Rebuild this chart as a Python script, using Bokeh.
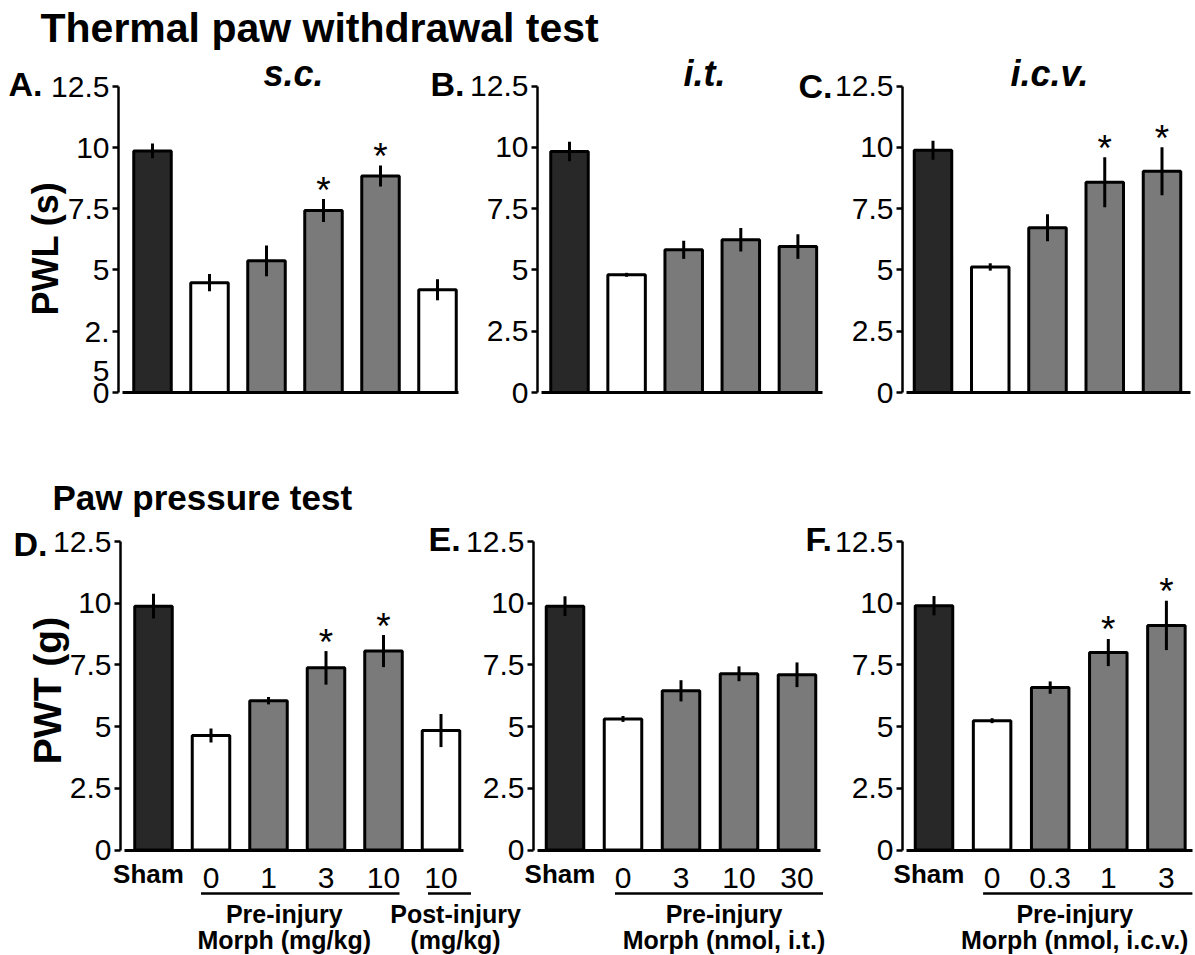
import math
from bokeh.plotting import figure
from bokeh.models import Range1d, LinearAxis, FixedTicker
from bokeh.layouts import column
from bokeh.embed import file_html
from bokeh.resources import INLINE
from bokeh.core.properties import value

# ------------------------------------------------------------------ data
# Thermal paw withdrawal latency, PWL (s)
sc_labels = ["Sham", "0", "1", "3", "10", "10"]
sc_kind = ["sham", "veh", "morph", "morph", "morph", "post"]
sc_pwl = [9.85, 4.48, 5.37, 7.42, 8.83, 4.19]
sc_pwl_err = [0.30, 0.35, 0.63, 0.47, 0.43, 0.43]
sc_pwl_sig = [0, 0, 0, 1, 1, 0]

it_labels = ["Sham", "0", "3", "10", "30"]
it_kind = ["sham", "veh", "morph", "morph", "morph"]
it_pwl = [9.83, 4.80, 5.82, 6.23, 5.95]
it_pwl_err = [0.40, 0.08, 0.37, 0.48, 0.50]
it_pwl_sig = [0, 0, 0, 0, 0]

icv_labels = ["Sham", "0", "0.3", "1", "3"]
icv_kind = ["sham", "veh", "morph", "morph", "morph"]
icv_pwl = [9.88, 5.12, 6.72, 8.57, 9.02]
icv_pwl_err = [0.39, 0.15, 0.55, 1.02, 0.98]
icv_pwl_sig = [0, 0, 0, 1, 1]

# Paw pressure threshold, PWT (g)
sc_pwt = [9.88, 4.64, 6.05, 7.38, 8.06, 4.84]
sc_pwt_err = [0.50, 0.28, 0.15, 0.68, 0.65, 0.67]
sc_pwt_sig = [0, 0, 0, 1, 1, 0]

it_pwt = [9.88, 5.31, 6.45, 7.14, 7.10]
it_pwt_err = [0.40, 0.12, 0.43, 0.30, 0.50]
it_pwt_sig = [0, 0, 0, 0, 0]

icv_pwt = [9.90, 5.24, 6.58, 8.00, 9.10]
icv_pwt_err = [0.39, 0.10, 0.25, 0.55, 1.00]
icv_pwt_sig = [0, 0, 0, 1, 1]

y_ticks = [0, 2.5, 5, 7.5, 10, 12.5]
y_tick_labels = ["0", "2.5", "5", "7.5", "10", "12.5"]

# group brackets under the x labels: (line 1, line 2, first index, last index)
sc_groups = [("Pre-injury", "Morph (mg/kg)", 1, 4), ("Post-injury", "(mg/kg)", 5, 5)]
it_groups = [("Pre-injury", "Morph (nmol, i.t.)", 1, 4)]
icv_groups = [("Pre-injury", "Morph (nmol, i.c.v.)", 1, 4)]

# ------------------------------------------------------------------ style
FONT_NAME = "Liberation Sans"
FONT = value(FONT_NAME)
COLORS = {"sham": "#282828", "veh": "#ffffff", "morph": "#7a7a7a", "post": "#ffffff"}
W = 1194
PX = 57.5          # pixels per x unit
BAR_W = 37.5 / PX


def xd(px):
    return px / PX


def txt(fig, x, y, s, size, style="normal", align="center", baseline="middle", angle=0.0):
    fig.text(x=[x], y=[y], text=[s], text_font=FONT, text_font_size=value(f"{size}px"),
             text_font_style=style, text_align=align, text_baseline=baseline,
             angle=angle, text_color="black")


def make_row(top_px, bottom_px, y0_px, y125_px, panels, header, ylabel):
    ppu = (y0_px - y125_px) / 12.5

    def yd(py):
        return (y0_px - py) / ppu

    fig = figure(width=W, height=bottom_px - top_px,
                 x_range=Range1d(0, W / PX),
                 y_range=Range1d(-(bottom_px - y0_px) / ppu, (y0_px - top_px) / ppu),
                 output_backend="svg", toolbar_location=None,
                 x_axis_location=None, y_axis_location=None,
                 min_border=0, outline_line_color=None,
                 background_fill_color="white", border_fill_color="white")
    fig.grid.visible = False

    # section header and y-axis title
    htext, hx, hy, hsize = header
    txt(fig, xd(hx), yd(hy), htext, hsize, style="bold", align="left")
    ltext, lx, ly, lsize = ylabel
    txt(fig, xd(lx), yd(ly), ltext, lsize, style="bold", angle=math.pi / 2)

    for pnl in panels:
        labels, kinds, vals, errs, sig = pnl["data"]
        n = len(vals)
        xs = [round(xd(pnl["first"]) + i * pnl["pitch"] / PX, 5) for i in range(n)]
        ax_x = xd(pnl["axis"])

        # y axis
        overrides = dict(zip(y_ticks, y_tick_labels))
        overrides.update(pnl.get("yover", {}))
        ya = LinearAxis(fixed_location=ax_x, bounds=(0, 12.5),
                        ticker=FixedTicker(ticks=y_ticks),
                        major_label_overrides=overrides,
                        axis_line_width=2.5, axis_line_color="black",
                        major_tick_line_width=2.5, major_tick_line_color="black",
                        major_tick_out=6, major_tick_in=0,
                        minor_tick_line_color=None,
                        major_label_standoff=3,
                        major_label_text_font=FONT_NAME,
                        major_label_text_font_size="30px",
                        major_label_text_color="black")
        fig.add_layout(ya, "left")

        # x axis (baseline) with dose tick labels
        if pnl["xlabels"]:
            ticks = xs[1:]
            xover = {t: l for t, l in zip(xs[1:], labels[1:])}
        else:
            ticks = []
            xover = {}
        xa = LinearAxis(fixed_location=0, bounds=(xd(pnl["axis"] + 4), xd(pnl["end"])),
                        ticker=FixedTicker(ticks=ticks),
                        major_label_overrides=xover,
                        axis_line_width=3, axis_line_color="black",
                        major_tick_line_color=None, minor_tick_line_color=None,
                        major_label_standoff=12,
                        major_label_text_font=FONT_NAME,
                        major_label_text_font_size="30px",
                        major_label_text_color="black")
        fig.add_layout(xa, "below")

        # bars + error bars
        fig.vbar(x=xs, top=vals, bottom=0, width=BAR_W,
                 fill_color=[COLORS[k] for k in kinds],
                 line_color="black", line_width=3)
        fig.segment(x0=xs, y0=[v - e for v, e in zip(vals, errs)],
                    x1=xs, y1=[v + e for v, e in zip(vals, errs)],
                    line_color="black", line_width=3)

        # significance asterisks
        sx = [x for x, s in zip(xs, sig) if s]
        sy = [v + e for v, e, s in zip(vals, errs, sig) if s]
        if sx:
            fig.text(x=sx, y=sy, text=["*"] * len(sx), text_font=FONT,
                     text_font_size=value("37px"), text_align="center",
                     text_baseline="middle", y_offset=-9, text_color="black")

        # panel letter and route title
        lt, lxp, lyp = pnl["letter"]
        txt(fig, xd(lxp), yd(lyp), lt, 34, style="bold", align="left")
        if pnl.get("route"):
            rt, rxp, ryp = pnl["route"]
            txt(fig, xd(rxp), yd(ryp), rt, 36, style="bold italic")

        # group names under the axis
        if pnl["xlabels"]:
            txt(fig, xs[0] - 5 / PX, yd(873), labels[0], 26, style="bold")
            for (l1, l2, i0, i1), (p0, p1, shift) in zip(pnl["groups"], pnl["glay"]):
                u0 = xs[i0] + p0 / PX
                u1 = xs[i1] + p1 / PX
                fig.segment(x0=[u0], y0=[yd(893)], x1=[u1], y1=[yd(893)],
                            line_color="black", line_width=2.5)
                cx = (u0 + u1) / 2 + shift / PX
                txt(fig, cx, yd(913), l1, 25, style="bold")
                txt(fig, cx, yd(939), l2, 25, style="bold")
    return fig


row1_panels = [
    dict(data=(sc_labels, sc_kind, sc_pwl, sc_pwl_err, sc_pwl_sig), axis=118, first=152,
         pitch=57.0, end=458, letter=("A.", 8, 83.5), route=("s.c.", 293, 73),
         xlabels=False, yover={2.5: "\n2.\n5"}),
    dict(data=(it_labels, it_kind, it_pwl, it_pwl_err, it_pwl_sig), axis=537, first=569,
         pitch=57.1, end=822, letter=("B.", 430, 83.5), route=("i.t.", 704, 73),
         xlabels=False),
    dict(data=(icv_labels, icv_kind, icv_pwl, icv_pwl_err, icv_pwl_sig), axis=902, first=932.5,
         pitch=57.25, end=1190, letter=("C.", 798, 85), route=("i.c.v.", 1049, 73),
         xlabels=False),
]
row2_panels = [
    dict(data=(sc_labels, sc_kind, sc_pwt, sc_pwt_err, sc_pwt_sig), axis=120, first=153,
         pitch=57.5, end=463, letter=("D.", 13, 543), xlabels=True, groups=sc_groups,
         glay=[(-10, 16, -16), (-13, 30, 6)]),
    dict(data=(it_labels, it_kind, it_pwt, it_pwt_err, it_pwt_sig), axis=533, first=564.5,
         pitch=58.0, end=820, letter=("E.", 428, 538), xlabels=True, groups=it_groups,
         glay=[(-8, 26, 5)]),
    dict(data=(icv_labels, icv_kind, icv_pwt, icv_pwt_err, icv_pwt_sig), axis=902, first=933.5,
         pitch=58.1, end=1192, letter=("F.", 805, 538), xlabels=True, groups=icv_groups,
         glay=[(-9, 26, -13)]),
]

f1 = make_row(0, 440, 392, 85.5, row1_panels,
              ("Thermal paw withdrawal test", 40, 27, 41), ("PWL (s)", 45, 248, 36))
f2 = make_row(440, 954, 849.5, 541, row2_panels,
              ("Paw pressure test", 52, 497, 35), ("PWT (g)", 47, 690, 39))

p = column(f1, f2, spacing=0)
open("out.html", "w").write(file_html(p, INLINE))
